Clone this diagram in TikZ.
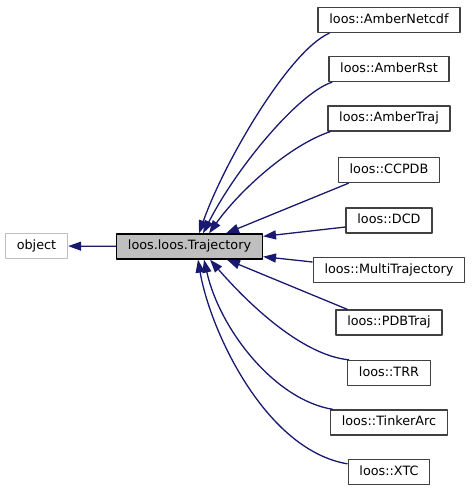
\documentclass[tikz,border=0pt]{standalone}
\usepackage{fontspec}
\setmainfont{DejaVu Sans}
\usetikzlibrary{arrows.meta,positioning}
\definecolor{edgeblue}{RGB}{25,25,112}
\definecolor{boxgray}{RGB}{64,64,64}
\definecolor{litegray}{RGB}{191,191,191}
\tikzset{cls/.style={draw=boxgray,line width=1.3pt,fill=white,minimum height=25pt,inner xsep=11.3pt,inner ysep=0pt,
  text height=9.5pt,text depth=3pt,font=\fontsize{12.8}{15}\selectfont}}
\tikzset{inh/.style={edgeblue,line width=1.3pt,-{Triangle[length=13pt,width=9pt]}}}

\begin{document}
\begin{tikzpicture}[x=1pt,y=-1pt,line join=round]
\useasboundingbox (0,0) rectangle (472,493);
% --- base classes
\node[cls,draw=litegray] (object) at (36.5,246) {object};
\node[cls,fill=litegray,draw=black] (traj) at (189.5,246.5) {loos.loos.Trajectory};
% --- derived classes, one column
\node[cls] (netcdf) at (389,20) {loos::AmberNetcdf};
\node[cls] (rst) at (389,69) {loos::AmberRst};
\node[cls] (ambtraj) at (389,118.5) {loos::AmberTraj};
\node[cls] (ccpdb) at (389,170) {loos::CCPDB};
\node[cls] (dcd) at (389,220.5) {loos::DCD};
\node[cls] (multi) at (389,270) {loos::MultiTrajectory};
\node[cls] (pdb) at (389,322.5) {loos::PDBTraj};
\node[cls] (trr) at (389,373) {loos::TRR};
\node[cls] (tinker) at (389,422.5) {loos::TinkerArc};
\node[cls] (xtc) at (389,472) {loos::XTC};
% --- inheritance edges
\draw[inh] (traj) -- (object);
\draw[inh] ([xshift=12]netcdf.south west) .. controls (290,50) and (225,160) .. ([xshift=83]traj.north west);
\draw[inh] ([xshift=4]rst.south west) .. controls (300,92) and (238,165) .. ([xshift=87]traj.north west);
\draw[inh] ([xshift=3]ambtraj.south west) .. controls (290,145) and (240,190) .. ([xshift=93]traj.north west);
\draw[inh] ([xshift=11]ccpdb.south west) -- ([xshift=110]traj.north west);
\draw[inh] ([yshift=-6.5]dcd.west) -- ([yshift=-3]traj.north east);
\draw[inh] ([yshift=8]multi.west) -- ([yshift=3]traj.south east);
\draw[inh] ([xshift=12]pdb.north west) -- ([xshift=111]traj.south west);
\draw[inh] ([xshift=2]trr.north west) .. controls (300,355) and (245,300) .. ([xshift=94]traj.south west);
\draw[inh] ([xshift=3]tinker.north west) .. controls (275,400) and (220,330) .. ([xshift=88]traj.south west);
\draw[inh] ([yshift=-5]xtc.north west) .. controls (265,450) and (210,330) .. ([xshift=82]traj.south west);
\end{tikzpicture}
\end{document}
